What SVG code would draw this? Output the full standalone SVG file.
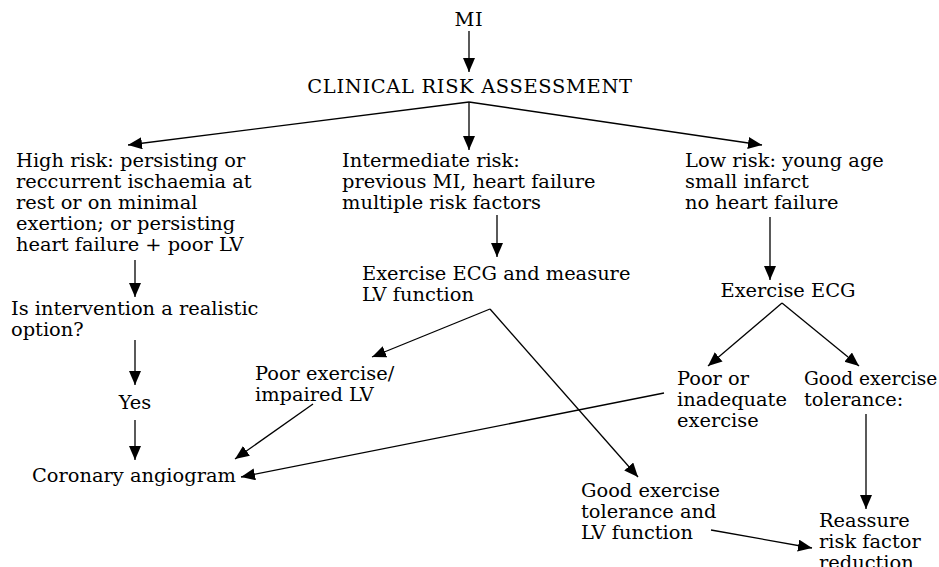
<svg xmlns="http://www.w3.org/2000/svg" width="939" height="567" viewBox="0 0 939 567">
<style>
text{font-family:"DejaVu Serif","Liberation Serif",serif;font-size:19.4px;fill:#000}
.caps{letter-spacing:0.7px}
.c{stroke:#000;stroke-width:1.3;fill:none;marker-end:url(#ah)}
</style>
<defs>
<marker id="ah" markerUnits="userSpaceOnUse" markerWidth="15" markerHeight="13" refX="14" refY="6" orient="auto"><path d="M0,0 L14,6 L0,12 z" fill="#000"/></marker>
</defs>
<rect width="939" height="567" fill="#fff"/>
<g id="connectors">
<line class="c" x1="469" y1="31" x2="469" y2="72"/>
<line class="c" x1="469" y1="102" x2="128" y2="145"/>
<line class="c" x1="469" y1="102" x2="469" y2="150"/>
<line class="c" x1="469" y1="102" x2="762" y2="145"/>
<line class="c" x1="135" y1="260" x2="135" y2="297"/>
<line class="c" x1="135" y1="340" x2="135" y2="385"/>
<line class="c" x1="135" y1="420" x2="135" y2="460"/>
<line class="c" x1="497" y1="215" x2="497" y2="257"/>
<line class="c" x1="490" y1="309" x2="372" y2="357"/>
<line class="c" x1="490" y1="309" x2="638" y2="477"/>
<line class="c" x1="313" y1="404" x2="235" y2="459"/>
<line class="c" x1="664" y1="393" x2="241" y2="477"/>
<line class="c" x1="770" y1="217" x2="770" y2="280"/>
<line class="c" x1="782" y1="303" x2="708" y2="366"/>
<line class="c" x1="782" y1="303" x2="859" y2="366"/>
<line class="c" x1="866" y1="414" x2="866" y2="509"/>
<line class="c" x1="711" y1="530" x2="812" y2="548"/>
</g>
<g id="mi"><text x="469" y="26" text-anchor="middle" class="caps">MI</text></g>
<g id="assess"><text x="470" y="93" text-anchor="middle" class="caps">CLINICAL RISK ASSESSMENT</text></g>
<g id="high"><text x="16" y="167">High risk: persisting or</text><text x="16" y="188">reccurrent ischaemia at</text><text x="16" y="209">rest or on minimal</text><text x="16" y="230">exertion; or persisting</text><text x="16" y="251">heart failure + poor LV</text></g>
<g id="interv"><text x="11" y="315">Is intervention a realistic</text><text x="11" y="336">option?</text></g>
<g id="yes"><text x="135" y="409" text-anchor="middle">Yes</text></g>
<g id="angio"><text x="32" y="482">Coronary angiogram</text></g>
<g id="inter"><text x="342" y="167">Intermediate risk:</text><text x="342" y="188">previous MI, heart failure</text><text x="342" y="209">multiple risk factors</text></g>
<g id="exlv"><text x="362" y="280">Exercise ECG and measure</text><text x="362" y="301">LV function</text></g>
<g id="poorlv"><text x="255" y="380">Poor exercise/</text><text x="255" y="401">impaired LV</text></g>
<g id="goodlv"><text x="581" y="497">Good exercise</text><text x="581" y="518">tolerance and</text><text x="581" y="539">LV function</text></g>
<g id="low"><text x="685" y="167">Low risk: young age</text><text x="685" y="188">small infarct</text><text x="685" y="209">no heart failure</text></g>
<g id="execg"><text x="788" y="297" text-anchor="middle">Exercise ECG</text></g>
<g id="poor"><text x="677" y="385">Poor or</text><text x="677" y="406">inadequate</text><text x="677" y="427">exercise</text></g>
<g id="good"><text x="804" y="385" style="font-size:18.6px">Good exercise</text><text x="804" y="406">tolerance:</text></g>
<g id="reassure"><text x="819" y="527">Reassure</text><text x="819" y="548">risk factor</text><text x="819" y="569">reduction</text></g>
</svg>
